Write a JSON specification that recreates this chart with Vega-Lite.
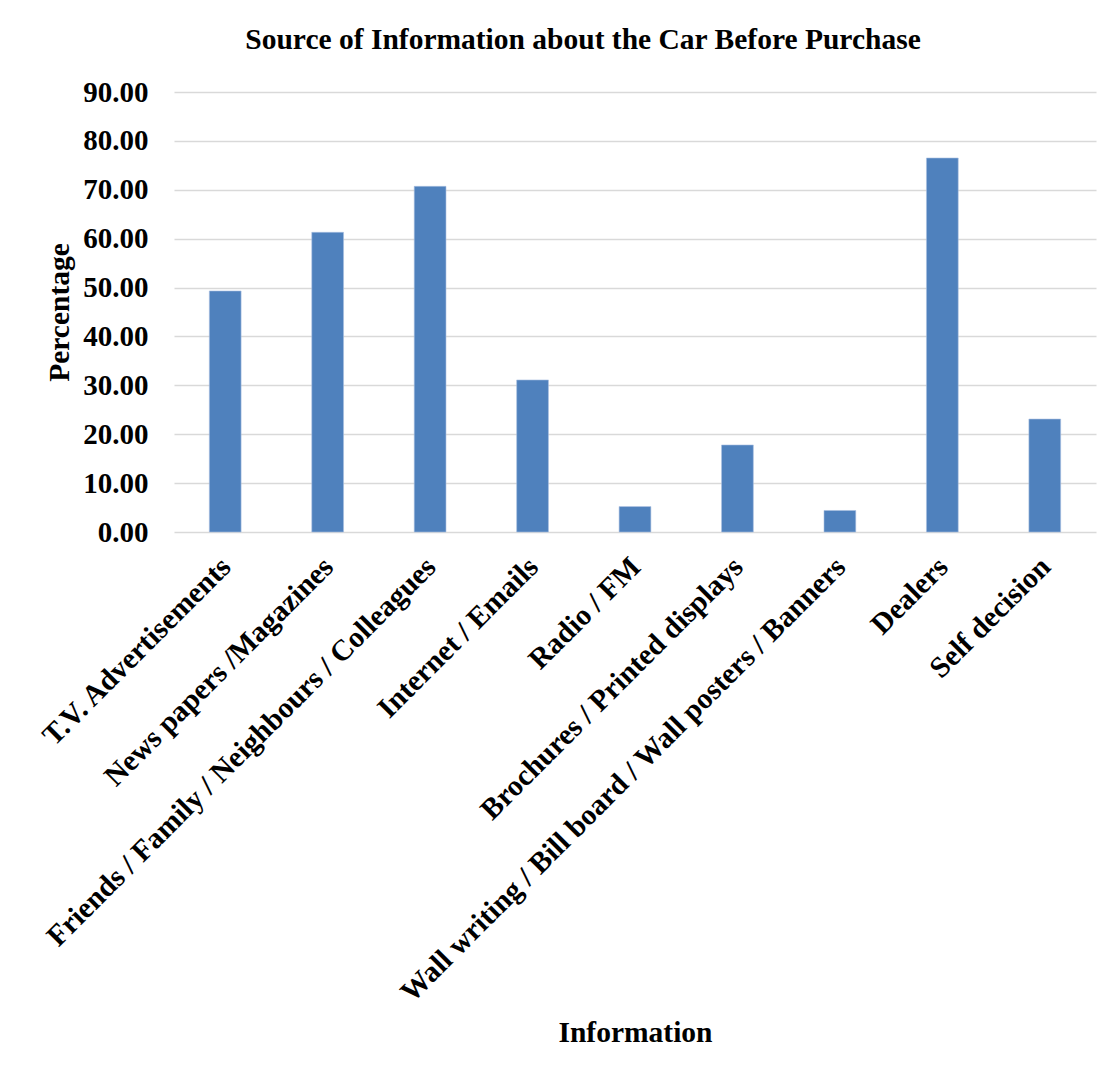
{
  "$schema": "https://vega.github.io/schema/vega-lite/v6.json",
  "autosize": {"type": "none"},
  "width": 922,
  "height": 440,
  "padding": {"left": 174, "top": 92, "right": 23, "bottom": 543},
  "background": "#ffffff",
  "config": {
    "font": "Liberation Serif",
    "view": {"stroke": null},
    "title": {"font": "Liberation Serif", "fontSize": 29.5, "fontWeight": "bold", "color": "#000000"}
  },
  "title": {"text": "Source of Information about the Car Before Purchase", "anchor": "middle", "dx": -52, "offset": 23},
  "data": {
    "values": [
      {"Information": "T.V. Advertisements", "Percentage": 49.3},
      {"Information": "News papers /Magazines", "Percentage": 61.3},
      {"Information": "Friends / Family / Neighbours / Colleagues", "Percentage": 70.7},
      {"Information": "Internet / Emails", "Percentage": 31.1},
      {"Information": "Radio / FM", "Percentage": 5.2},
      {"Information": "Brochures / Printed displays", "Percentage": 17.8},
      {"Information": "Wall writing / Bill board / Wall posters / Banners", "Percentage": 4.4},
      {"Information": "Dealers", "Percentage": 76.5},
      {"Information": "Self decision", "Percentage": 23.1}
    ]
  },
  "mark": {"type": "bar", "color": "#4F81BD", "stroke": "#a9c0e0", "strokeWidth": 0.6},
  "encoding": {
    "x": {
      "field": "Information",
      "type": "nominal",
      "sort": null,
      "scale": {"paddingInner": 0.69, "paddingOuter": 0.345},
      "axis": {
        "title": "Information",
        "titleFont": "Liberation Serif",
        "titleFontSize": 29.5,
        "titleFontWeight": "bold",
        "titleColor": "#000000",
        "titlePadding": 286,
        "labelAngle": -45,
        "labelFont": "Liberation Serif",
        "labelFontSize": 29.5,
        "labelFontWeight": "bold",
        "labelColor": "#000000",
        "labelPadding": 20,
        "labelOffset": -9,
        "labelLimit": 1000,
        "ticks": false,
        "domain": false
      }
    },
    "y": {
      "field": "Percentage",
      "type": "quantitative",
      "scale": {"domain": [0, 90]},
      "axis": {
        "title": "Percentage",
        "titleFont": "Liberation Serif",
        "titleFontSize": 29.5,
        "titleFontWeight": "bold",
        "titleColor": "#000000",
        "titlePadding": 8,
        "values": [0, 10, 20, 30, 40, 50, 60, 70, 80, 90],
        "format": ".2f",
        "labelFont": "Liberation Serif",
        "labelFontSize": 29,
        "labelFontWeight": "bold",
        "labelColor": "#000000",
        "labelPadding": 26,
        "ticks": false,
        "domain": false,
        "grid": true,
        "gridColor": "#d9d9d9",
        "gridWidth": 1.5
      }
    }
  }
}
